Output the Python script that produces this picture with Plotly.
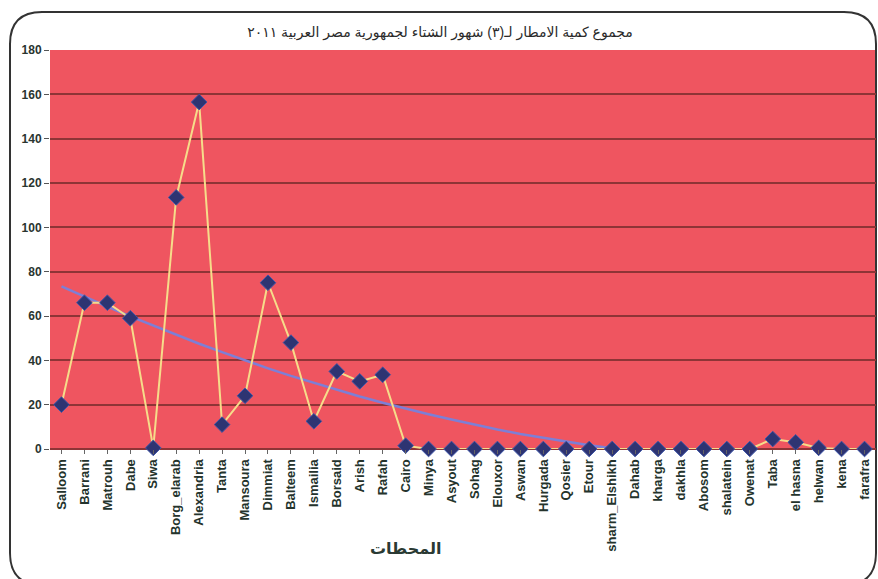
import plotly.graph_objects as go

# stations (x axis)
stations = ["Salloom", "Barrani", "Matrouh", "Dabe", "Siwa", "Borg_elarab", "Alexandria",
            "Tanta", "Mansoura", "Dimmiat", "Balteem", "Ismailia", "Borsaid", "Arish",
            "Rafah", "Cairo", "Minya", "Asyout", "Sohag", "Elouxor", "Aswan", "Hurgada",
            "Qosier", "Etour", "sharm_Elshikh", "Dahab", "kharga", "dakhla", "Abosom",
            "shalatein", "Owenat", "Taba", "el hasna", "helwan", "kena", "farafra"]

# total winter rainfall
rain = [20, 66, 66, 59, 0.5, 113.5, 156.5, 11, 24, 75, 48, 12.5, 35, 30.5, 33.5, 1.5,
        0, 0, 0, 0, 0, 0, 0, 0, 0, 0, 0, 0, 0, 0, 0, 4.5, 3, 0.5, 0, 0]

# trend line as drawn (visible part only)
trend = [73.4, 68.7, 64.2, 59.8, 55.6, 51.5, 47.5, 43.7, 40.0, 36.4, 33.0, 29.8, 26.7,
         23.7, 20.9, 18.2, 15.7, 13.3, 10.9, 8.8, 6.8, 5.0, 3.3, 1.7, 0.3]

y_ticks = [0, 20, 40, 60, 80, 100, 120, 140, 160, 180]

title = "مجموع كمية الامطار لـ(٣) شهور الشتاء لجمهورية مصر العربية ٢٠١١"
x_title = "المحطات"

W, H = 878, 579
L, R, T, B = 50, 2, 50, 130
pw, ph = W - L - R, H - T - B


def px(x):
    return (x - L) / pw


def py(y):
    return (H - B - y) / ph


fig = go.Figure()

fig.add_trace(go.Scatter(
    x=stations[:len(trend)], y=trend, mode="lines",
    line=dict(color="#7D7FD6", width=2.5), hoverinfo="skip", showlegend=False,
))

fig.add_trace(go.Scatter(
    x=stations, y=rain, mode="lines+markers",
    line=dict(color="#F6DC8A", width=2),
    marker=dict(symbol="diamond", size=12, color="#2E3472",
                line=dict(color="#3D55A8", width=1)),
    cliponaxis=False, showlegend=False,
))

# rounded chart frame
x0, x1, y0, y1, r = 10, 876, 12, 585, 32
frame = (f"M {px(x0 + r)},{py(y0)} L {px(x1 - r)},{py(y0)} "
         f"Q {px(x1)},{py(y0)} {px(x1)},{py(y0 + r)} "
         f"L {px(x1)},{py(y1 - r)} Q {px(x1)},{py(y1)} {px(x1 - r)},{py(y1)} "
         f"L {px(x0 + r)},{py(y1)} Q {px(x0)},{py(y1)} {px(x0)},{py(y1 - r)} "
         f"L {px(x0)},{py(y0 + r)} Q {px(x0)},{py(y0)} {px(x0 + r)},{py(y0)} Z")

fig.update_layout(
    width=W, height=H,
    margin=dict(l=L, r=R, t=T, b=B, autoexpand=False),
    paper_bgcolor="white",
    plot_bgcolor="#EF5560",
    font=dict(family="Arial, DejaVu Sans, sans-serif", color="#1E2A26"),
    title=dict(text=title, x=440 / W, xanchor="center", y=1 - 32 / H, yanchor="middle",
               font=dict(size=14, color="#2A2A2A")),
    shapes=[dict(type="path", xref="paper", yref="paper", path=frame,
                 line=dict(color="#333333", width=2), layer="below")],
    annotations=[dict(text=f"<b>{x_title}</b>", xref="paper", yref="paper",
                      x=px(405), y=py(548), xanchor="center", yanchor="middle",
                      showarrow=False, font=dict(size=16, color="#2A3A33"))],
)

fig.update_xaxes(
    type="category", range=[-0.5, len(stations) - 0.5], tickangle=-90,
    showgrid=False, zeroline=False,
    tickvals=stations, ticktext=[f"<b>{s}</b>" for s in stations],
    ticks="outside", ticklen=4, tickcolor="#666666",
    tickfont=dict(size=13, color="#24332C"),
    showline=False,
)

fig.update_yaxes(
    range=[0, 180], tickvals=y_ticks, ticktext=[f"<b>{v}</b>" for v in y_ticks],
    showgrid=True, gridcolor="#8E3436", gridwidth=2,
    zeroline=True, zerolinecolor="#8E3436", zerolinewidth=2,
    ticks="outside", ticklen=5, tickcolor="#555555",
    tickfont=dict(size=12, color="#2A3530"),
    showline=False,
)

fig.write_html("out.html", config={"displayModeBar": False},
               post_script="document.body.style.margin = '0';")
